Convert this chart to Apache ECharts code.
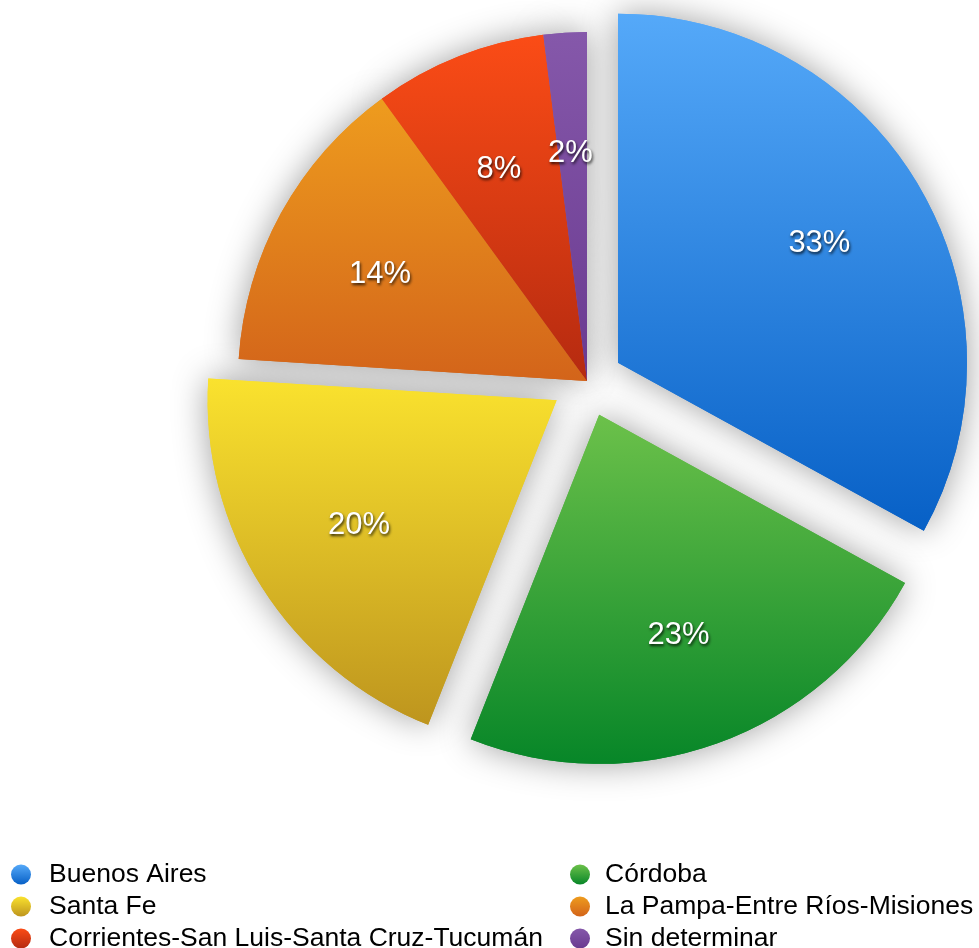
<!DOCTYPE html>
<html>
<head>
<meta charset="utf-8">
<script src="https://cdn.jsdelivr.net/npm/echarts@6/dist/echarts.min.js"></script>
<style>
  html, body { margin: 0; padding: 0; background: #fff; }
  #chart { width: 979px; height: 948px; }
</style>
</head>
<body>
<div id="chart"></div>
<script>
// 地区 / 占比（%）
const regions = ['Buenos Aires', 'Córdoba', 'Santa Fe', 'La Pampa-Entre Ríos-Misiones', 'Corrientes-San Luis-Santa Cruz-Tucumán', 'Sin determinar']
const shares = [33, 23, 20, 14, 8, 2]
const exploded = [true, true, true, false, false, false]
// 每块的渐变色（上 -> 下）
const topColors = ['#55a9f9', '#6cc14a', '#fae22e', '#ee9c1e', '#fb4c16', '#8558aa']
const bottomColors = ['#0760c6', '#078628', '#be951e', '#d3641a', '#b52a10', '#6a3a90']

const fontFamily = "'Liberation Sans', Arial, Helvetica, sans-serif"

function grad(i) {
  return new echarts.graphic.LinearGradient(0, 0, 0, 1, [
    { offset: 0, color: topColors[i] },
    { offset: 1, color: bottomColors[i] }
  ])
}

const pieData = regions.map((name, i) => ({
  name,
  value: shares[i],
  selected: exploded[i],
  itemStyle: { color: grad(i) }
}))

const center = [587, 381]
const common = {
  type: 'pie',
  center,
  startAngle: 90,
  clockwise: true,
  selectedMode: 'multiple',
  selectedOffset: 36,
  emphasis: { scale: false },
  labelLine: { show: false },
  data: pieData
}

const chart = echarts.init(document.getElementById('chart'))
const legendBase = {
  orient: 'vertical',
  top: 861,
  height: 200, // 给足高度，避免竖排图例折成两列
  padding: 0,
  icon: 'circle',
  itemWidth: 20,
  itemHeight: 20,
  itemGap: 5,
  selectedMode: false,
  textStyle: { fontSize: 26.5, lineHeight: 24, color: '#000', fontFamily }
}
chart.setOption({
  animation: false,
  backgroundColor: '#fff',
  legend: [
    {
      ...legendBase,
      left: 11,
      data: [0, 2, 4].map(i => ({ name: regions[i], itemStyle: { color: grad(i) } })),
      textStyle: { ...legendBase.textStyle, padding: [0, 0, 0, 13] }
    },
    {
      ...legendBase,
      left: 570,
      data: [1, 3, 5].map(i => ({ name: regions[i], itemStyle: { color: grad(i) } })),
      textStyle: { ...legendBase.textStyle, padding: [0, 0, 0, 10] }
    }
  ],
  series: [
    { // 主体
      ...common,
      z: 3,
      radius: [0, 349],
      label: { show: false }
    },
    { // 阴影层
      ...common,
      z: 1,
      silent: true,
      radius: [0, 349],
      label: { show: false },
      itemStyle: { shadowBlur: 34, shadowColor: 'rgba(0,0,0,0.38)' }
    },
    { // 标签层：内半径让标签落在约 2/3 半径处
      ...common,
      z: 4,
      silent: true,
      radius: [113, 349],
      data: pieData.map(d => ({ ...d, itemStyle: { color: 'rgba(0,0,0,0)' } })),
      label: {
        show: true,
        position: 'inside',
        offset: [-2, 6],
        formatter: p => p.value + '%',
        color: '#fff',
        fontSize: 31,
        fontFamily,
        textShadowColor: 'rgba(0,0,0,0.8)',
        textShadowBlur: 3,
        textShadowOffsetX: 1,
        textShadowOffsetY: 2
      }
    }
  ]
})
</script>
</body>
</html>
